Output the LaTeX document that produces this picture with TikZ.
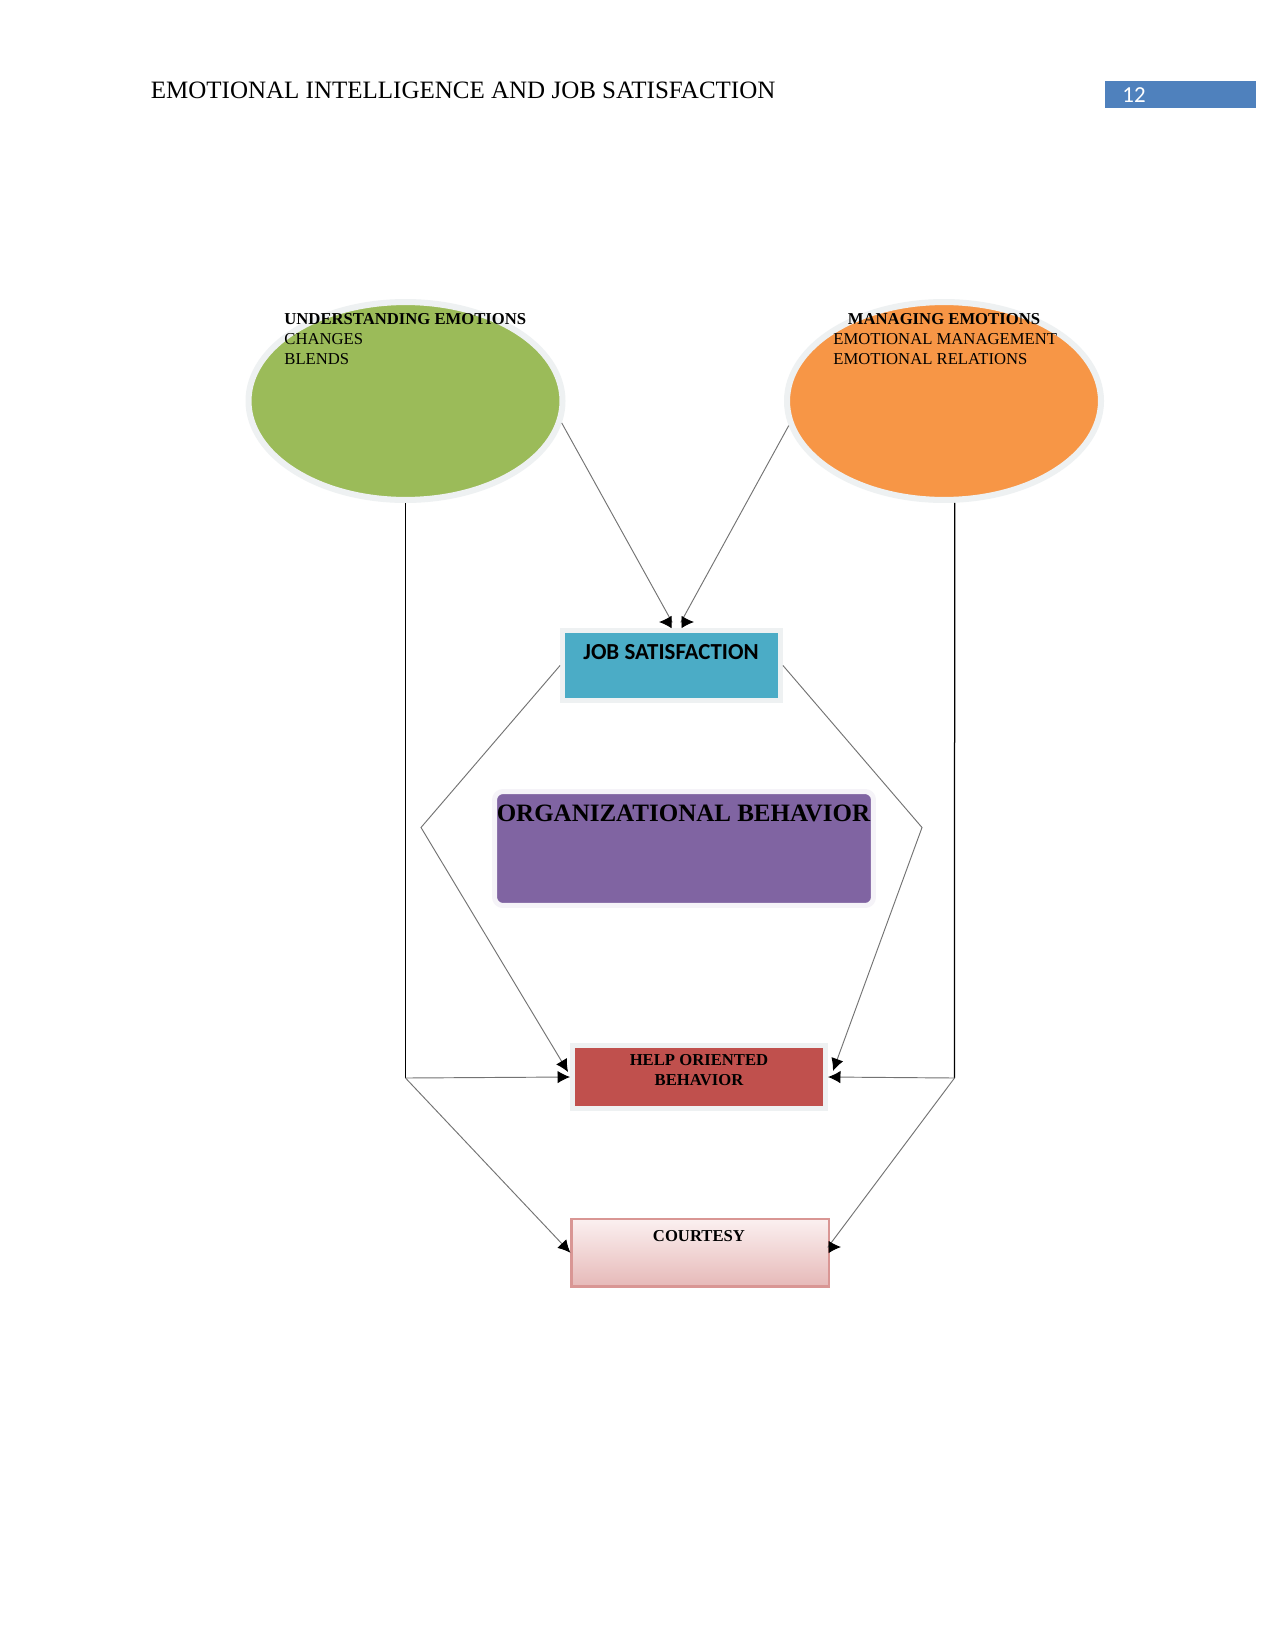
\documentclass[tikz,border=0pt]{standalone}
\usepackage{fontspec}
\setmainfont{Liberation Serif}
\newfontfamily\calibri{Carlito}
\usetikzlibrary{arrows.meta,shapes.geometric}
\definecolor{eigreen}{HTML}{9BBB59}
\definecolor{eiorange}{HTML}{F79646}
\definecolor{eiblue}{HTML}{4BACC6}
\definecolor{eipurple}{HTML}{8064A2}
\definecolor{eired}{HTML}{C0504D}
\definecolor{eipage}{HTML}{4F81BD}
\definecolor{courtop}{HTML}{FBF0F0}
\definecolor{courbot}{HTML}{E6B9B8}
\definecolor{courline}{HTML}{D99694}
\definecolor{glow}{HTML}{EEF1F2}
\begin{document}
\begin{tikzpicture}[x=0.48pt,y=-0.48pt,
  ellip/.style={ellipse,draw=glow,line width=2.9pt,inner sep=0pt,minimum width=150.7pt,minimum height=95pt},
  framed/.style={rectangle,draw=glow,line width=2.4pt,inner sep=0pt},
  txt/.style={inner sep=0pt,text=black},
  conn/.style={draw=black!55,line width=0.45pt},
  vconn/.style={draw=black,line width=0.6pt},
  tip/.style={-{Latex[length=6pt,width=6pt,color=black]}}]
\useasboundingbox (0,0) rectangle (1275,1651);
\fill[white] (0,0) rectangle (1275,1651);

% header
\node[txt,anchor=base west,font=\fontsize{12}{14}\selectfont] (hdr) at (150.5,99) {EMOTIONAL INTELLIGENCE AND JOB SATISFACTION};
\node[rectangle,fill=eipage,inner sep=0pt,minimum width=72.5pt,minimum height=13pt] (pgbox) at (1180.5,94.5) {};
\node[txt,anchor=base west,text=white,font=\calibri\fontsize{11}{13}\selectfont] (pgnum) at (1122,103) {12};

% ellipses
\node[ellip,fill=eigreen] (ue) at (405.5,401) {};
\node[ellip,fill=eiorange] (me) at (944,401) {};
\node[txt,anchor=north west,font=\bfseries\fontsize{8}{9.36}\selectfont] (uet) at (284,313.5) {UNDERSTANDING EMOTIONS};
\node[txt,anchor=north west,align=left,font=\fontsize{8}{9.36}\selectfont] (ueb) at (284,333.5) {CHANGES\\BLENDS};
\node[txt,anchor=north,font=\bfseries\fontsize{8}{9.36}\selectfont] (met) at (944,313.5) {MANAGING EMOTIONS};
\node[txt,anchor=north west,align=left,font=\fontsize{8}{9.36}\selectfont] (meb) at (833,333.5) {EMOTIONAL MANAGEMENT\\EMOTIONAL RELATIONS};

% boxes
\node[framed,fill=eiblue,minimum width=104.6pt,minimum height=33.6pt] (js) at (671.5,665.5) {};
\node[txt,anchor=base,font=\calibri\bfseries\fontsize{11}{13}\selectfont] (jst) at (671,659.5) {JOB SATISFACTION};

\node[framed,draw=eipurple!8,fill=eipurple,rounded corners=4pt,minimum width=181.9pt,minimum height=54.7pt] (ob) at (684,848.5) {};
\node[txt,anchor=base,font=\bfseries\fontsize{12}{14}\selectfont] (obt) at (683.5,821.5) {ORGANIZATIONAL BEHAVIOR};

\node[framed,fill=eired,minimum width=121.4pt,minimum height=30.7pt] (hob) at (699,1077) {};
\node[txt,anchor=north,align=center,font=\bfseries\fontsize{8}{9.6}\selectfont] (hobt) at (699,1054.5) {HELP ORIENTED\\BEHAVIOR};

\node[rectangle,draw=courline,line width=1pt,top color=courtop,bottom color=courbot,inner sep=0pt,minimum width=123.4pt,minimum height=32.4pt] (cou) at (700,1252.75) {};
\node[txt,anchor=base,font=\bfseries\fontsize{8}{9.6}\selectfont] (cout) at (699,1241.5) {COURTESY};

% coordinates
\coordinate (js1) at (672,622);
\coordinate (js1tip) at (659,622);
\coordinate (js2) at (681,622);
\coordinate (js2tip) at (694,622);
\coordinate (kl) at (421,827.5);
\coordinate (kr) at (922,827.5);
\coordinate (lc) at (405.5,1078);
\coordinate (rc) at (954.5,1078);
\coordinate (cr) at (828,1247);
\coordinate (crtip) at (841,1247);

% connectors
\draw[conn,tip] (ue.-8) -- (js1) -- (js1tip);
\draw[conn,tip] (me.189) -- (js2) -- (js2tip);
\draw[vconn] (ue.south) -- (lc);
\draw[vconn] (me.-84) -- (rc);
\draw[conn,tip] (lc) -- (hob.west);
\draw[conn,tip] (rc) -- (hob.east);
\draw[conn,tip] (js.west) -- (kl) -- ([shift={(-2,-5)}]hob.west);
\draw[conn,tip] (js.east) -- (kr) -- ([shift={(5,-6)}]hob.east);
\draw[conn,tip] (lc) -- (cou.west);
\draw[conn,tip] (rc) -- (cr) -- (crtip);
\end{tikzpicture}
\end{document}
